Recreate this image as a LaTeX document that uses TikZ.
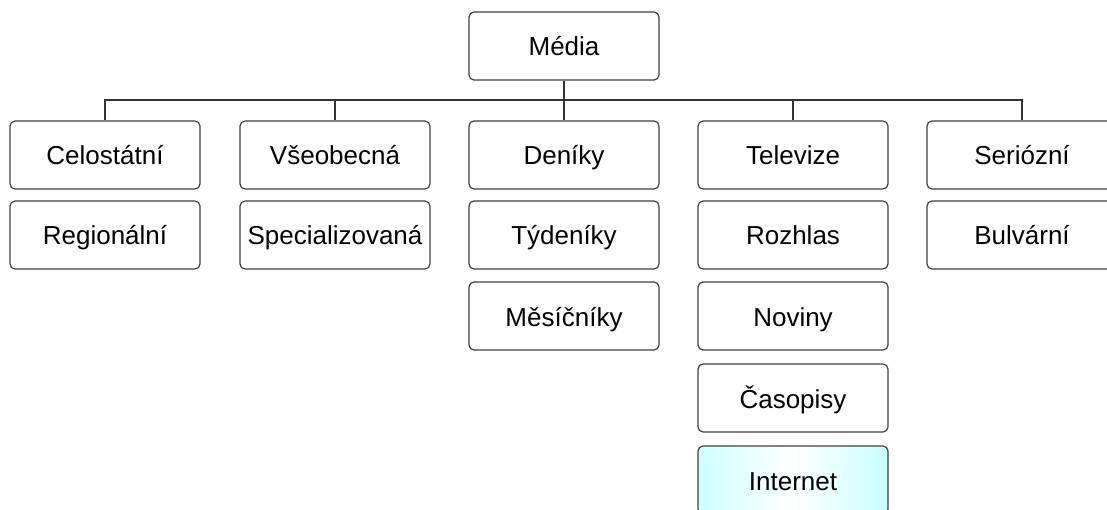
\documentclass[tikz,border=0pt]{standalone}
\usepackage{fontspec}
\setmainfont{Liberation Sans}
\usetikzlibrary{positioning}

\tikzset{
  box/.style={draw=black!75, line width=1.2pt, rounded corners=5pt, fill=white,
    minimum width=190pt, minimum height=68pt, inner sep=0pt,
    text height=20pt, text depth=0pt,
    font=\fontsize{26}{31}\selectfont},
  link/.style={draw=black!80, line width=1.2pt}
}

\begin{document}
\begin{tikzpicture}[x=1pt, y=-1pt]
        \useasboundingbox (0,0) rectangle (1107,510);

        % Koren
        \node[box] (media) at (564, 46) {Média};
        \coordinate (bus) at (564, 100);

        % Prvni radek
        \node[box] (celostatni) at (105, 155) {Celostátní};
        \node[box] (vseobecna) at (335, 155) {Všeobecná};
        \node[box] (deniky) at (564, 155) {Deníky};
        \node[box] (televize) at (793, 155) {Televize};
        \node[box] (seriozni) at (1022, 155) {Seriózní};

        % Dalsi polozky pod sebou
        \node[box] (regionalni) at (105, 235) {Regionální};
        \node[box] (specializovana) at (335, 235) {Specializovaná};
        \node[box] (tydeniky) at (564, 235) {Týdeníky};
        \node[box] (mesicniky) at (564, 316) {Měsíčníky};
        \node[box] (rozhlas) at (793, 235) {Rozhlas};
        \node[box] (noviny) at (793, 316) {Noviny};
        \node[box] (casopisy) at (793, 398) {Časopisy};
        \node[box, left color=cyan!20, right color=cyan!22, middle color=white] (internet) at (793, 480) {Internet};
        \node[box] (bulvarni) at (1022, 235) {Bulvární};

        % Spojnice
        \draw[link] (media) -- (bus);
        \draw[link] (celostatni.north) |- (bus);
        \draw[link] (vseobecna.north) |- (bus);
        \draw[link] (deniky.north) -- (bus);
        \draw[link] (televize.north) |- (bus);
        \draw[link] (seriozni.north) |- (bus);

    \end{tikzpicture}
\end{document}
